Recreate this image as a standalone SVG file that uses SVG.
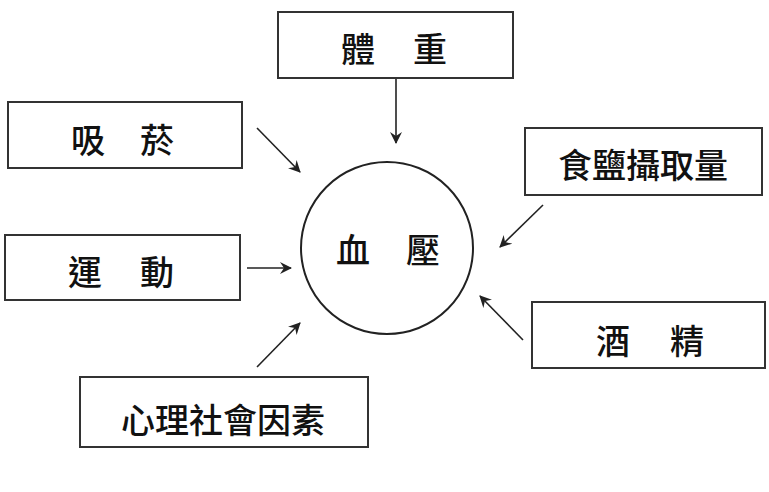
<svg xmlns="http://www.w3.org/2000/svg" width="769" height="492" viewBox="0 0 769 492">
<style>
.box{fill:#fff;stroke:#333;stroke-width:2}
.lbl{font-family:"Noto Sans CJK TC","Noto Sans CJK SC",sans-serif;font-size:34px;font-weight:500;fill:#111;text-anchor:middle;dominant-baseline:central}
.con{stroke:#222;stroke-width:1.6;fill:none;marker-end:url(#ah)}
</style>
<defs>
<marker id="ah" viewBox="0 0 12 12" refX="11" refY="6" markerWidth="12" markerHeight="12" markerUnits="userSpaceOnUse" orient="auto">
<path d="M0,0 L12,6 L0,12 L4,6 Z" fill="#222"/>
</marker>
</defs>
<rect width="769" height="492" fill="#fff"/>
<g id="connectors">
<line class="con" x1="396" y1="79" x2="396" y2="143"/>
<line class="con" x1="257" y1="128" x2="300" y2="172"/>
<line class="con" x1="247" y1="268" x2="291" y2="268"/>
<line class="con" x1="543" y1="205" x2="500" y2="247"/>
<line class="con" x1="523" y1="340" x2="480" y2="296"/>
<line class="con" x1="257" y1="367" x2="300" y2="323"/>
</g>
<g id="node-bp">
<circle cx="387" cy="248" r="86" fill="#fff" stroke="#222" stroke-width="2"/>
<text class="lbl" x="353" y="248">血</text>
<text class="lbl" x="423" y="248">壓</text>
</g>
<g id="node-weight">
<rect class="box" x="278" y="12" width="235" height="66"/>
<text class="lbl" x="358" y="47">體</text>
<text class="lbl" x="430" y="47">重</text>
</g>
<g id="node-smoking">
<rect class="box" x="8" y="102" width="234" height="66"/>
<text class="lbl" x="88" y="138">吸</text>
<text class="lbl" x="157" y="138">菸</text>
</g>
<g id="node-exercise">
<rect class="box" x="5" y="235" width="235" height="65"/>
<text class="lbl" x="85" y="270">運</text>
<text class="lbl" x="157" y="270">動</text>
</g>
<g id="node-salt">
<rect class="box" x="525" y="128" width="237" height="67"/>
<text class="lbl" x="643" y="163">食鹽攝取量</text>
</g>
<g id="node-alcohol">
<rect class="box" x="532" y="302" width="233" height="66"/>
<text class="lbl" x="613" y="339">酒</text>
<text class="lbl" x="687" y="339">精</text>
</g>
<g id="node-psych">
<rect class="box" x="80" y="377" width="288" height="70"/>
<text class="lbl" x="223" y="418">心理社會因素</text>
</g>
</svg>
